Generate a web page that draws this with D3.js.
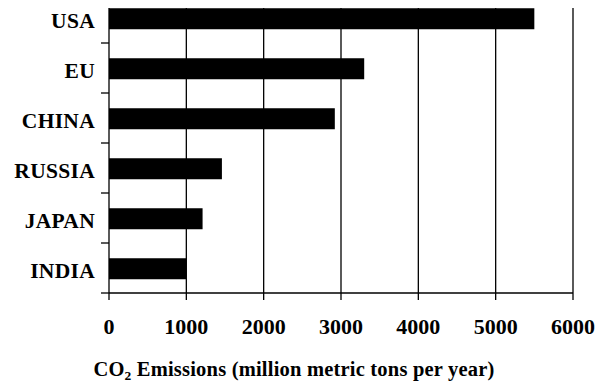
<!DOCTYPE html>
<html><head><meta charset="utf-8">
<script src="https://cdn.jsdelivr.net/npm/d3@7"></script>
<style>body{margin:0;background:#fff}svg{display:block}text{font-family:"Liberation Serif","Times New Roman",serif;font-weight:bold;fill:#000}</style>
</head><body><svg id="c" width="597" height="383"></svg>
<script>
const categories = ["USA","EU","CHINA","RUSSIA","JAPAN","INDIA"];
const emissions = [5500,3300,2920,1460,1210,1000];
const xTicks = [0,1000,2000,3000,4000,5000,6000];
const axisTitle = "Emissions (million metric tons per year)";

const svg = d3.select("#c");
const x = d3.scaleLinear().domain([0,6000]).range([109,573]);
const y = d3.scaleBand().domain(categories).range([-7,293]);
const plotTop = 8, plotBottom = 293;
const bw = y.bandwidth();

// gridlines
svg.append("g").selectAll("line").data(xTicks.slice(1)).join("line")
  .attr("x1", d=>x(d)).attr("x2", d=>x(d)).attr("y1", plotTop).attr("y2", plotBottom)
  .attr("stroke","#000").attr("stroke-width",1.3);

// bars
svg.append("g").selectAll("rect").data(categories).join("rect")
  .attr("x", x(0)).attr("y", d=>y(d)+bw*0.305)
  .attr("width", (d,i)=>x(emissions[i])-x(0)).attr("height", bw*0.42)
  .attr("fill","#000");

// y axis line and ticks
svg.append("line").attr("x1",x(0)).attr("x2",x(0)).attr("y1",plotTop).attr("y2",plotBottom)
  .attr("stroke","#000").attr("stroke-width",1.3);
svg.append("g").selectAll("line").data(categories).join("line")
  .attr("x1", x(0)-8).attr("x2", x(0)).attr("y1", d=>y(d)+bw).attr("y2", d=>y(d)+bw)
  .attr("stroke","#000").attr("stroke-width",1.3);

// x axis line and ticks
svg.append("line").attr("x1",x(0)).attr("x2",x(6000)).attr("y1",plotBottom).attr("y2",plotBottom)
  .attr("stroke","#000").attr("stroke-width",1.3);
svg.append("g").selectAll("line").data(xTicks).join("line")
  .attr("x1", d=>x(d)).attr("x2", d=>x(d)).attr("y1", plotBottom).attr("y2", plotBottom+7)
  .attr("stroke","#000").attr("stroke-width",1.3);

// tick labels
svg.append("g").selectAll("text").data(xTicks).join("text")
  .attr("x", d=>x(d)).attr("y", 334).attr("text-anchor","middle")
  .style("font-size","22px").text(d=>d);

// category labels
svg.append("g").selectAll("text").data(categories).join("text")
  .attr("x", 95).attr("y", d=>y(d)+bw*0.515).attr("dy","0.44em")
  .attr("text-anchor","end").style("font-size","21.5px").style("letter-spacing","0.3px").text(d=>d);

// axis title
const t = svg.append("text").attr("x", 294).attr("y", 376).attr("text-anchor","middle")
  .style("font-size","20.5px").style("letter-spacing","0.2px");
t.append("tspan").text("CO");
t.append("tspan").attr("dy",4).style("font-size","13.5px").text("2");
t.append("tspan").attr("dy",-4).text(" " + axisTitle);
</script></body></html>
